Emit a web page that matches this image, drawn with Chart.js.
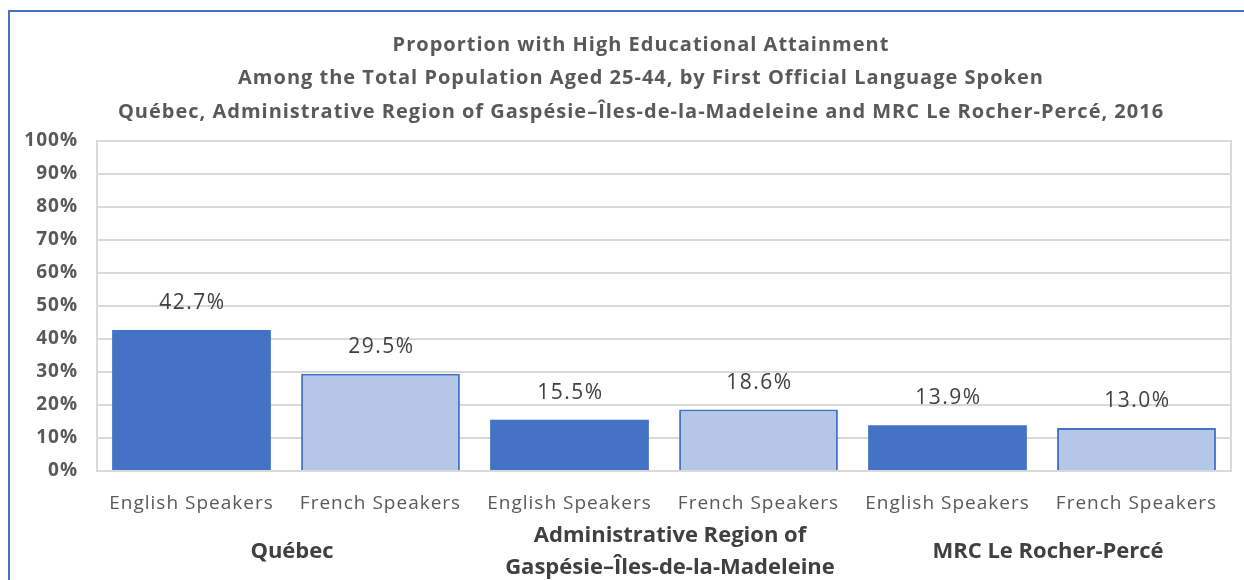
<!DOCTYPE html>
<html>
<head>
<meta charset="utf-8">
<script src="https://cdn.jsdelivr.net/npm/chart.js@4/dist/chart.umd.min.js"></script>
<style>
    html, body { margin: 0; padding: 0; background: #fff; }
    .frame {
        position: absolute; left: 8px; top: 10px; right: -10px; bottom: -10px;
        border-left: 2px solid #4472C4; border-top: 2px solid #4472C4;
    }
    .chart-box { position: absolute; left: 0; top: 0; width: 1244px; height: 580px; }
</style>
</head>
<body>
<div class="frame"></div>
<div class="chart-box"><canvas id="attainmentChart"></canvas></div>
<script>
// Chart data
const titleLines = [
    'Proportion with High Educational Attainment',
    'Among the Total Population Aged 25-44, by First Official Language Spoken',
    'Québec, Administrative Region of Gaspésie–Îles-de-la-Madeleine and MRC Le Rocher-Percé, 2016'
];
const categories = ['English Speakers', 'French Speakers', 'English Speakers', 'French Speakers', 'English Speakers', 'French Speakers'];
const groupIndex = [0, 0, 1, 1, 2, 2];
const groupLabels = [['Québec'], ['Administrative Region of', 'Gaspésie–Îles-de-la-Madeleine'], ['MRC Le Rocher-Percé']];
const values = [42.7, 29.5, 15.5, 18.6, 13.9, 13.0];
const yTicks = [0, 10, 20, 30, 40, 50, 60, 70, 80, 90, 100];

const FONT = '"Open Sans", sans-serif';

document.addEventListener('DOMContentLoaded', function () {

    // ==================== PLUGINS ====================
    // Excel-like wide letter spacing for the axis tick labels
    const spacing = {
        id: 'spacing',
        beforeUpdate(chart) { chart.ctx.letterSpacing = '1px'; },
        beforeDraw(chart) { chart.ctx.letterSpacing = '1px'; }
    };

    const titlePlugin = {
        id: 'titleLines',
        afterDraw(chart) {
            const ctx = chart.ctx;
            ctx.save();
            ctx.letterSpacing = '1px';
            ctx.fillStyle = '#595959';
            ctx.font = 'bold 20px ' + FONT;
            ctx.textAlign = 'center';
            ctx.textBaseline = 'middle';
            const ys = [45, 78, 112];
            titleLines.forEach((t, i) => ctx.fillText(t, 641, ys[i]));
            ctx.restore();
        }
    };

    const valueLabels = {
        id: 'valueLabels',
        afterDatasetsDraw(chart) {
            const ctx = chart.ctx;
            const meta = chart.getDatasetMeta(0);
            ctx.save();
            ctx.letterSpacing = '1.5px';
            ctx.fillStyle = '#404040';
            ctx.font = '21px ' + FONT;
            ctx.textAlign = 'center';
            ctx.textBaseline = 'middle';
            meta.data.forEach((bar, i) => {
                ctx.fillText(values[i].toFixed(1) + '%', bar.x + 1, bar.y - 27);
            });
            ctx.restore();
        }
    };

    const groupAxis = {
        id: 'groupAxis',
        afterDraw(chart) {
            const ctx = chart.ctx;
            const x = chart.scales.x;
            ctx.save();
            ctx.letterSpacing = '0px';
            ctx.fillStyle = '#404040';
            ctx.font = 'bold 22px ' + FONT;
            ctx.textAlign = 'center';
            ctx.textBaseline = 'middle';
            groupLabels.forEach((lines, g) => {
                const idx = groupIndex.map((v, i) => v === g ? i : -1).filter(i => i >= 0);
                const cx = (x.getPixelForValue(idx[0]) + x.getPixelForValue(idx[idx.length - 1])) / 2 + 6;
                const lineH = 32;
                const startY = 552 - (lines.length - 1) * lineH / 2;
                lines.forEach((l, k) => ctx.fillText(l, cx, startY + k * lineH));
            });
            ctx.restore();
        }
    };

    const plotFrame = {
        id: 'plotFrame',
        beforeDatasetsDraw(chart) {
            const a = chart.chartArea;
            const ctx = chart.ctx;
            ctx.save();
            ctx.strokeStyle = '#d9d9d9';
            ctx.lineWidth = 2;
            ctx.strokeRect(a.left, a.top, a.right - a.left, a.bottom - a.top);
            ctx.restore();
        }
    };

    // ==================== BAR CHART ====================
    const ctx = document.getElementById('attainmentChart');
    new Chart(ctx, {
        type: 'bar',
        data: {
            labels: categories,
            datasets: [{
                data: values,
                backgroundColor: categories.map(c => c.startsWith('English') ? '#4472C4' : '#B4C7E7'),
                borderColor: '#4472C4',
                borderWidth: categories.map(c => c.startsWith('English') ? 0 : 2),
                categoryPercentage: 1.0,
                barPercentage: 0.84
            }]
        },
        options: {
            responsive: true,
            maintainAspectRatio: false,
            animation: false,
            layout: {
                padding: { top: 141, right: 13, bottom: 0, left: 0 }
            },
            plugins: {
                legend: { display: false },
                title: { display: false },
                tooltip: { enabled: false }
            },
            scales: {
                y: {
                    min: 0,
                    max: 100,
                    afterFit: function (scale) { scale.width = 97; },
                    afterBuildTicks: function (scale) {
                        scale.ticks = yTicks.map(v => ({ value: v }));
                    },
                    grid: { color: '#d9d9d9', lineWidth: 2, drawTicks: false },
                    border: { display: false },
                    ticks: {
                        padding: 19,
                        color: '#595959',
                        font: { family: FONT, size: 19, weight: 'bold' },
                        callback: function (value) { return value + '%'; }
                    }
                },
                x: {
                    afterFit: function (scale) { scale.height = 109; },
                    grid: { display: false, drawTicks: false },
                    border: { display: false },
                    ticks: {
                        padding: 21,
                        color: '#595959',
                        maxRotation: 0,
                        autoSkip: false,
                        font: { family: FONT, size: 19 }
                    }
                }
            }
        },
        plugins: [spacing, plotFrame, valueLabels, groupAxis, titlePlugin]
    });
});
</script>
</body>
</html>
